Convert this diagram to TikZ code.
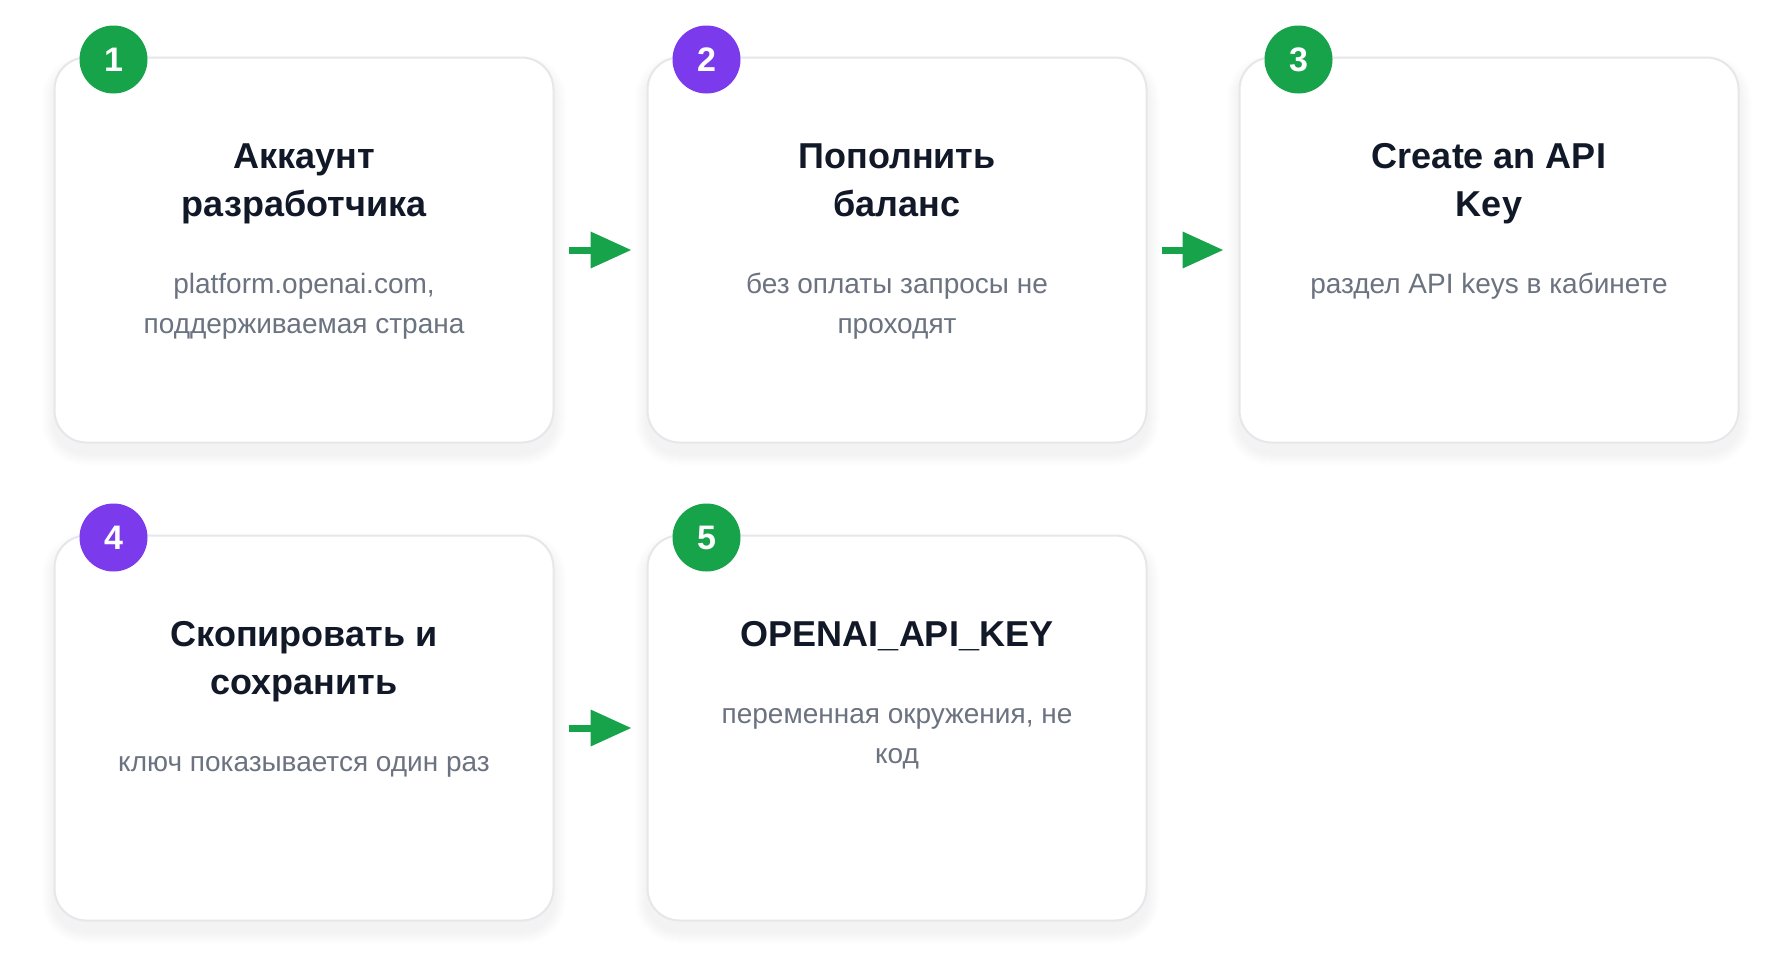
\documentclass[tikz,border=0pt]{standalone}
\usepackage{fontspec}
\setmainfont{Liberation Sans}
\usetikzlibrary{positioning,arrows.meta,backgrounds}
\definecolor{stepgreen}{HTML}{16A34A}
\definecolor{steppurple}{HTML}{7C3AED}
\definecolor{cardline}{HTML}{E5E7EB}
\definecolor{titleink}{HTML}{111827}
\definecolor{subink}{HTML}{6B7280}
\begin{document}
\begin{tikzpicture}[x=1pt,y=1pt,
  card/.style={draw=cardline,line width=2pt,fill=white,rounded corners=32pt,
    minimum width=499pt,minimum height=385pt},
  badge/.style={circle,fill=#1,minimum size=68pt,inner sep=0pt,text=white,
    font=\fontsize{34}{40}\selectfont\bfseries},
  ttl/.style={align=center,inner sep=0pt,text=titleink,font=\fontsize{36}{48}\selectfont\bfseries},
  txt/.style={align=center,inner sep=0pt,text=subink,font=\fontsize{28}{40}\selectfont},
  flow/.style={draw=stepgreen,line width=7pt,-{Triangle[length=41pt,width=35pt]},
    shorten <=14pt,shorten >=15pt}]
\useasboundingbox (0,0) rectangle (1790,-977);
% first row
\node[card] (b1) at (304,-250) {};
\node[card] (b2) at (897,-250) {};
\node[card] (b3) at (1489,-250) {};
% second row
\node[card] (b4) at (304,-728) {};
\node[card] (b5) at (897,-728) {};
\node[badge=stepgreen] (n1) at ([xshift=60pt,yshift=-3pt]b1.north west) {1};
\node[badge=steppurple] (n2) at ([xshift=60pt,yshift=-3pt]b2.north west) {2};
\node[badge=stepgreen] (n3) at ([xshift=60pt,yshift=-3pt]b3.north west) {3};
\node[badge=steppurple] (n4) at ([xshift=60pt,yshift=-3pt]b4.north west) {4};
\node[badge=stepgreen] (n5) at ([xshift=60pt,yshift=-3pt]b5.north west) {5};
\node[ttl,below=78.4pt of b1.north] (t1) {\strut Аккаунт\\\strut разработчика};
\node[txt,below=33.6pt of t1] (s1) {\strut platform.openai.com,\\\strut поддерживаемая страна};
\node[ttl,below=78.4pt of b2.north] (t2) {\strut Пополнить\\\strut баланс};
\node[txt,below=33.6pt of t2] (s2) {\strut без оплаты запросы не\\\strut проходят};
\node[ttl,below=78.4pt of b3.north] (t3) {\strut Create an API\\\strut Key};
\node[txt,below=33.6pt of t3] (s3) {\strut раздел API keys в кабинете};
\node[ttl,below=78.4pt of b4.north] (t4) {\strut Скопировать и\\\strut сохранить};
\node[txt,below=33.6pt of t4] (s4) {\strut ключ показывается один раз};
\node[ttl,below=78.4pt of b5.north] (t5) {\strut OPENAI\_API\_KEY};
\node[txt,below=33.6pt of t5] (s5) {\strut переменная окружения, не\\\strut код};
\draw[flow] (b1) -- (b2);
\draw[flow] (b2) -- (b3);
\draw[flow] (b4) -- (b5);
% soft shadows under the cards
\begin{pgfonlayer}{background}
\fill[white] (0,0) rectangle (1790,-977);
\foreach \b in {b1,b2,b3,b4,b5}
  \foreach \k [evaluate=\k as \e using 3*\k] in {1,...,12}
    \fill[black,opacity=0.004,rounded corners=32pt+\e pt]
      ([xshift=-\e pt,yshift=-\e pt-10pt]\b.south west) rectangle ([xshift=\e pt,yshift=\e pt-10pt]\b.north east);
\end{pgfonlayer}
\end{tikzpicture}
\end{document}
